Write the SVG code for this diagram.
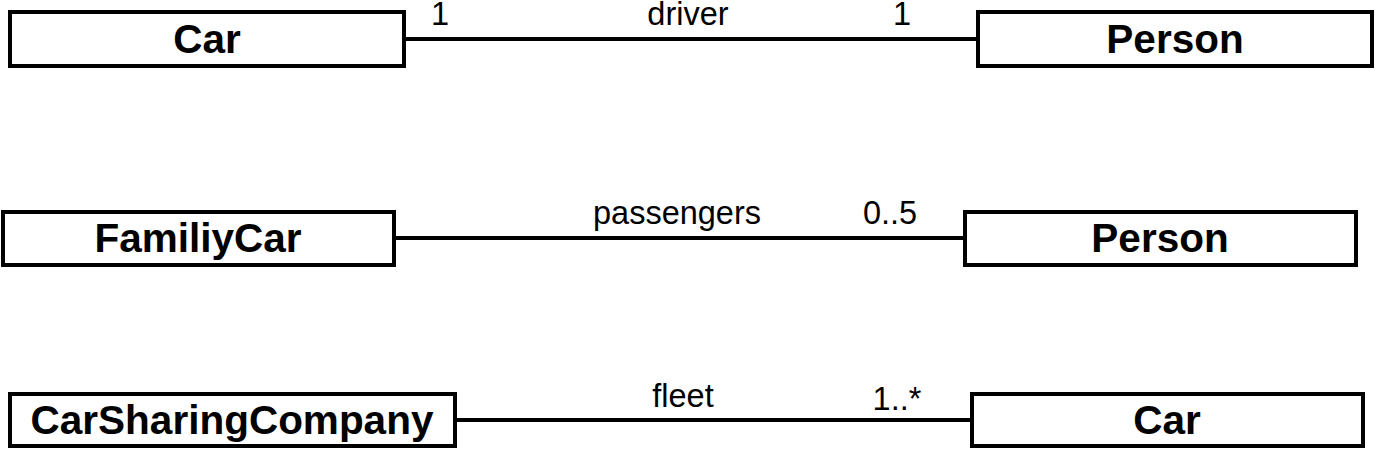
<svg xmlns="http://www.w3.org/2000/svg" width="1375" height="450" viewBox="0 0 1375 450">
<style>
.box{fill:#fff;stroke:#000;stroke-width:4}
.name{font-family:"Liberation Sans",Arial,sans-serif;font-weight:bold;font-size:40.5px;text-anchor:middle;fill:#000}
.lbl{font-family:"Liberation Sans",Arial,sans-serif;font-size:32.5px;text-anchor:middle;fill:#000}
.edge{stroke:#000;stroke-width:4;fill:none}
</style>
<rect x="0" y="0" width="1375" height="450" fill="#fff"/>
<g id="connectors">
<line class="edge" x1="404" y1="39" x2="978" y2="39"/>
<line class="edge" x1="394" y1="238" x2="965" y2="238"/>
<line class="edge" x1="455" y1="420" x2="972" y2="420"/>
<text class="lbl" x="440" y="25">1</text>
<text class="lbl" x="688" y="25">driver</text>
<text class="lbl" x="902" y="25">1</text>
<text class="lbl" x="677" y="224">passengers</text>
<text class="lbl" x="890" y="224">0..5</text>
<text class="lbl" x="683" y="407">fleet</text>
<text class="lbl" x="897" y="410">1..*</text>
</g>
<g id="car1"><rect class="box" x="10" y="12" width="394" height="54"/><text class="name" x="207" y="53">Car</text></g>
<g id="person1"><rect class="box" x="978" y="12" width="394" height="54"/><text class="name" x="1175" y="53">Person</text></g>
<g id="familiycar"><rect class="box" x="3" y="212" width="391" height="53"/><text class="name" x="198" y="252">FamiliyCar</text></g>
<g id="person2"><rect class="box" x="965" y="212" width="391" height="53"/><text class="name" x="1160" y="252">Person</text></g>
<g id="carsharingcompany"><rect class="box" x="10" y="394" width="445" height="52"/><text class="name" x="232" y="434">CarSharingCompany</text></g>
<g id="car2"><rect class="box" x="972" y="394" width="391" height="52"/><text class="name" x="1167" y="434">Car</text></g>
</svg>
